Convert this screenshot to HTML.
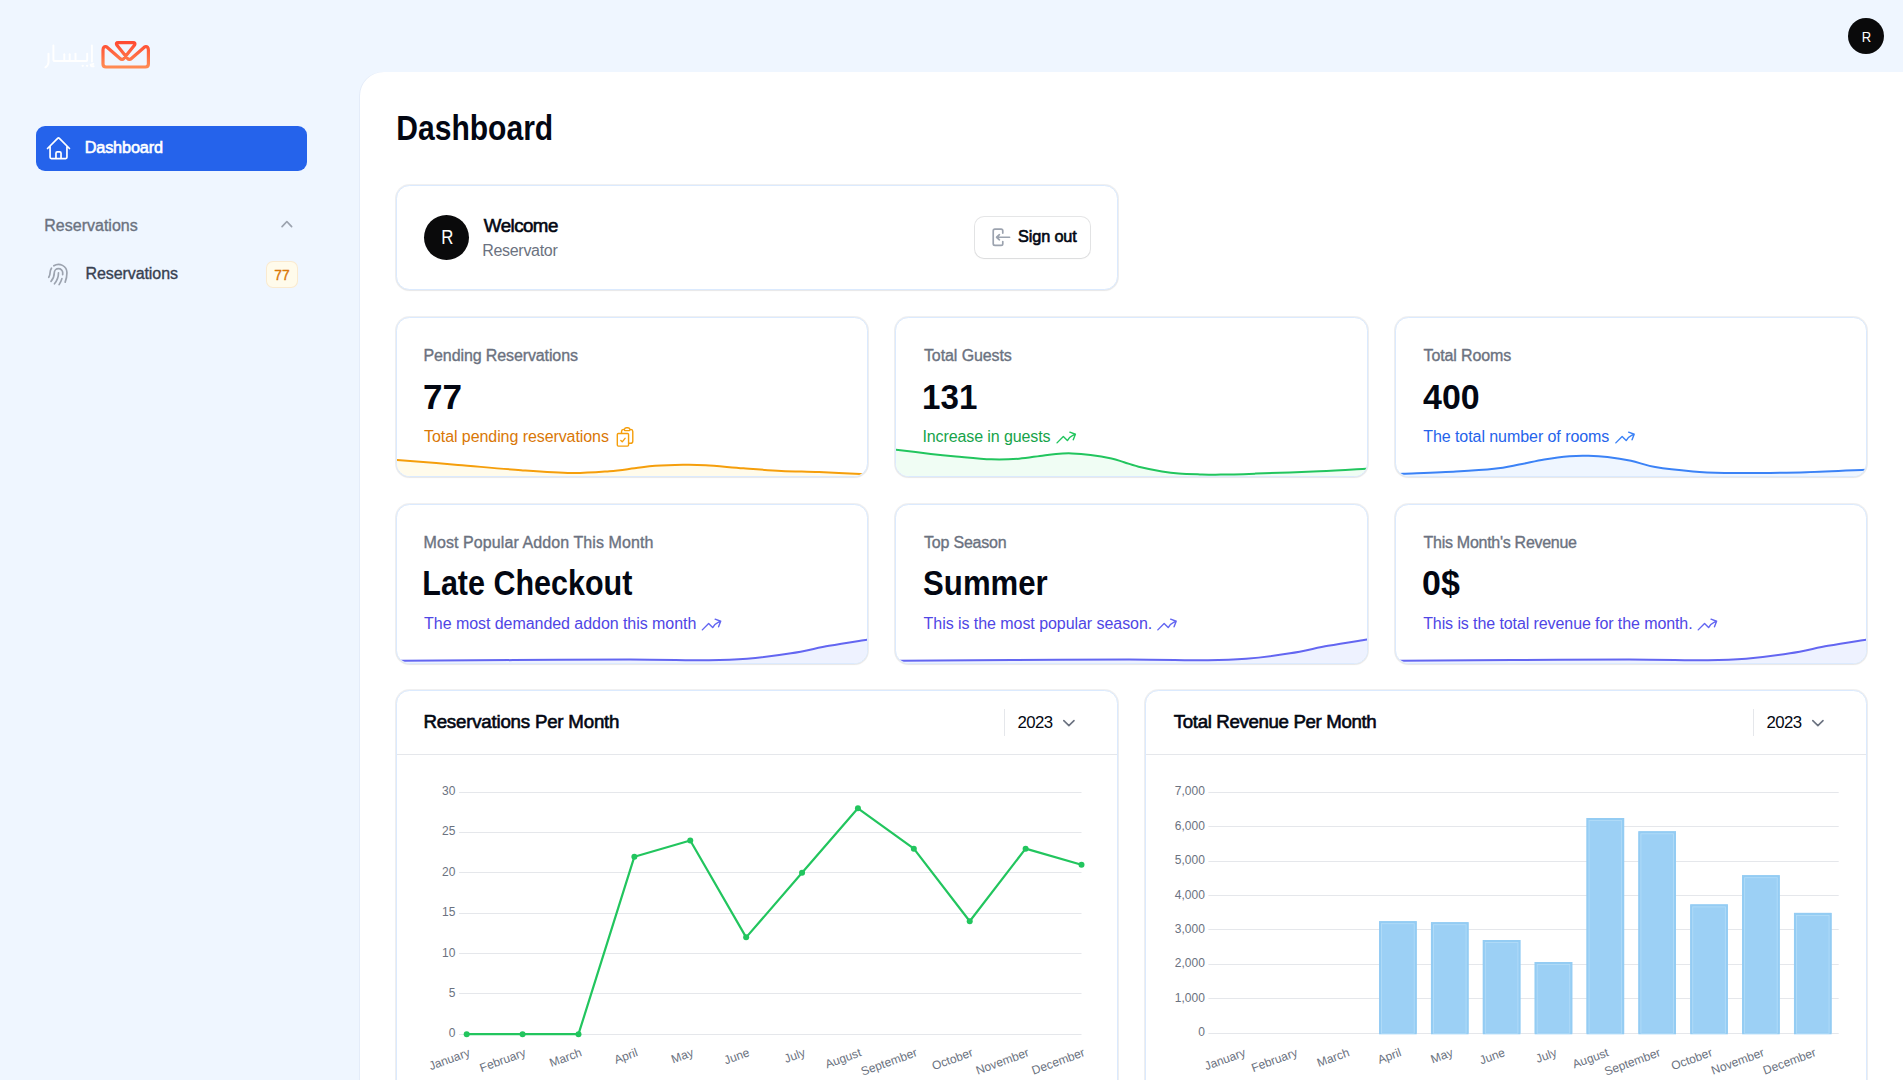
<!DOCTYPE html>
<html><head><meta charset="utf-8"><title>Dashboard</title>
<style>
*{box-sizing:border-box;margin:0;padding:0}
html,body{width:1903px;height:1080px;overflow:hidden}
body{background:#eff6ff;font-family:"Liberation Sans", sans-serif;position:relative}
.t{position:absolute;white-space:nowrap;line-height:1}
.main{position:absolute;left:360px;top:72px;width:1543px;height:1008px;background:#fff;border-top-left-radius:24px;box-shadow:-1px 0 0 rgba(30,58,138,0.05)}
.card{position:absolute;background:#fff;border:1px solid #dbeafe;border-radius:13.5px;box-shadow:0 0 0 1px rgba(3,7,18,0.06),0 1px 2px rgba(0,0,0,0.04)}
.nav{position:absolute;left:36px;top:126px;width:271px;height:45px;background:#2563eb;border-radius:9px}
.badge{position:absolute;left:265.5px;top:261.4px;width:32.3px;height:26.3px;background:#fffbeb;border-radius:7px;box-shadow:inset 0 0 0 1px rgba(217,119,6,0.12)}
.av{position:absolute;border-radius:50%;background:#0a0a0b}
.btn{position:absolute;left:975px;top:217px;width:115px;height:41px;border-radius:9px;background:#fff;box-shadow:0 0 0 1px rgba(3,7,18,0.1),0 1px 2px rgba(0,0,0,0.05)}
svg{position:absolute;left:0;top:0}
.ax{font-family:"Liberation Sans", sans-serif;font-size:12px;fill:#6b7280}
</style></head><body>
<div class="nav"></div>
<div class="badge"></div>
<div class="av" style="left:1848px;top:18px;width:36px;height:36px"></div>
<div class="main"></div>
<div class="card" style="left:396px;top:185px;width:722px;height:105px;"></div><div class="card" style="left:396px;top:317px;width:472px;height:160px;"></div><div class="card" style="left:895px;top:317px;width:473px;height:160px;"></div><div class="card" style="left:1395px;top:317px;width:472px;height:160px;"></div><div class="card" style="left:396px;top:504px;width:472px;height:160px;"></div><div class="card" style="left:895px;top:504px;width:473px;height:160px;"></div><div class="card" style="left:1395px;top:504px;width:472px;height:160px;"></div><div class="card" style="left:396px;top:690px;width:722px;height:420px;"></div><div class="card" style="left:1145px;top:690px;width:722px;height:420px;"></div>
<div class="av" style="left:424px;top:215px;width:45px;height:45px"></div>
<div class="btn"></div>
<svg width="1903" height="1080" viewBox="0 0 1903 1080">
<defs><clipPath id="sc0"><rect x="397" y="318" width="470" height="158" rx="12.5"/></clipPath><clipPath id="sc1"><rect x="896" y="318" width="471" height="158" rx="12.5"/></clipPath><clipPath id="sc2"><rect x="1396" y="318" width="470" height="158" rx="12.5"/></clipPath><clipPath id="sc3"><rect x="397" y="505" width="470" height="158" rx="12.5"/></clipPath><clipPath id="sc4"><rect x="896" y="505" width="471" height="158" rx="12.5"/></clipPath><clipPath id="sc5"><rect x="1396" y="505" width="470" height="158" rx="12.5"/></clipPath></defs>
<defs>
<linearGradient id="lg" x1="0" y1="0" x2="0" y2="1">
<stop offset="0" stop-color="#ff4b33"/><stop offset="1" stop-color="#ff8a52"/></linearGradient>
</defs>
<path d="M103,50 Q103,46 106.5,46.8 L120,58.5 Q122,60.5 124,58.3 L134.6,45 Q135.8,42.6 133.2,42.6 L118.1,42.6 Q115.5,42.6 116.8,45 L127.4,58.3 Q129.4,60.5 131.4,58.5 L144.9,46.8 Q148.4,46 148.4,50 L148.4,64 Q148.4,67 145.4,67 L106,67 Q103,67 103,64 Z" fill="none" stroke="url(#lg)" stroke-width="3.2" stroke-linejoin="round"/>
<g fill="none" stroke="#ffffff" stroke-width="1.95" stroke-linecap="round" stroke-linejoin="round"><path d="M91.9,45.4 L91.9,61.6"/><path d="M87.2,53.6 L87.2,59.4 Q87.2,61 85.6,61 L55,61 Q53.4,61 53.4,59.4 L53.4,45.4"/><path d="M75.5,53.6 L75.5,60.4"/><path d="M69.7,54.3 L69.7,60.4"/><path d="M64.3,54.3 L64.3,60.4"/><path d="M48.5,53.6 L48.5,62.3 Q48.3,65.6 45.4,67.3"/><path d="M90.6,64.6 L93.4,63.9 M90.8,64.8 Q90.6,66.6 93.6,66.3"/></g>
<g fill="#ffffff"><circle cx="82.7" cy="65.8" r="1.15"/><circle cx="87.1" cy="65.8" r="1.15"/></g>
<g transform="translate(45,135) scale(1.125)" fill="none" stroke="#ffffff" stroke-width="1.5" stroke-linecap="round" stroke-linejoin="round"><path d="m2.25 12 8.954-8.955c.44-.439 1.152-.439 1.591 0L21.75 12M4.5 9.75v10.125c0 .621.504 1.125 1.125 1.125H9.75v-4.875c0-.621.504-1.125 1.125-1.125h2.25c.621 0 1.125.504 1.125 1.125V21h4.125c.621 0 1.125-.504 1.125-1.125V9.75M8.25 21h8.25"/></g>
<g transform="translate(275.6,212.9) scale(1.125)" fill="#9ca3af"><path fill-rule="evenodd" d="M14.77 12.79a.75.75 0 01-1.06-.02L10 8.832 6.29 12.77a.75.75 0 11-1.08-1.04l4.25-4.5a.75.75 0 011.08 0l4.25 4.5a.75.75 0 01-.02 1.06z"/></g>
<g transform="translate(45,261) scale(1.125)" fill="none" stroke="#9ca3af" stroke-width="1.5" stroke-linecap="round" stroke-linejoin="round"><path d="M7.864 4.243A7.5 7.5 0 0 1 19.5 10.5c0 2.92-.556 5.709-1.568 8.268M5.742 6.364A7.465 7.465 0 0 0 4.5 10.5a7.464 7.464 0 0 1-1.15 3.993m1.989 3.559A11.209 11.209 0 0 0 8.25 10.5a3.75 3.75 0 1 1 7.5 0c0 .527-.021 1.049-.064 1.565M12 10.5a14.94 14.94 0 0 1-3.6 9.75m6.633-4.596a18.666 18.666 0 0 1-2.485 5.33"/></g>
<g transform="translate(989,226) scale(1.125)" fill="#9ca3af"><path fill-rule="evenodd" d="M3 4.25A2.25 2.25 0 015.25 2h5.5A2.25 2.25 0 0113 4.25v2a.75.75 0 01-1.5 0v-2a.75.75 0 00-.75-.75h-5.5a.75.75 0 00-.75.75v11.5c0 .414.336.75.75.75h5.5a.75.75 0 00.75-.75v-2a.75.75 0 011.5 0v2A2.25 2.25 0 0110.75 18h-5.5A2.25 2.25 0 013 15.75V4.25z"/><path fill-rule="evenodd" d="M19 10a.75.75 0 00-.75-.75H8.704l1.048-.943a.75.75 0 10-1.004-1.114l-2.5 2.25a.75.75 0 000 1.114l2.5 2.25a.75.75 0 101.004-1.114l-1.048-.943h9.546A.75.75 0 0019 10z"/></g>
<g transform="translate(613.80,425.70) scale(0.9375)" fill="none" stroke="#f59e0b" stroke-width="1.5" stroke-linecap="round" stroke-linejoin="round"><path d="M11.35 3.836c-.065.21-.1.433-.1.664 0 .414.336.75.75.75h4.5a.75.75 0 0 0 .75-.75 2.25 2.25 0 0 0-.1-.664m-5.8 0A2.251 2.251 0 0 1 13.5 2.25H15c1.012 0 1.867.668 2.15 1.586m-5.8 0c-.376.023-.75.05-1.124.08C9.095 4.01 8.25 4.973 8.25 6.108V8.25m8.9-4.414c.376.023.75.05 1.124.08 1.131.094 1.976 1.057 1.976 2.192V16.5A2.25 2.25 0 0 1 18 18.75h-2.25m-7.5-10.5H4.875c-.621 0-1.125.504-1.125 1.125v11.25c0 .621.504 1.125 1.125 1.125h9.75c.621 0 1.125-.504 1.125-1.125V18.75m-7.5-10.5h6.375c.621 0 1.125.504 1.125 1.125v9.375m-8.25-3 1.5 1.5 3-3.75"/></g>
<g transform="translate(1054.90,426.00) scale(0.9375)" fill="none" stroke="#22c55e" stroke-width="1.5" stroke-linecap="round" stroke-linejoin="round"><path d="M2.25 18 9 11.25l4.306 4.306a11.95 11.95 0 0 1 5.814-5.518l2.74-1.22m0 0-5.94-2.281m5.94 2.28-2.28 5.941"/></g>
<g transform="translate(1613.70,426.00) scale(0.9375)" fill="none" stroke="#3b82f6" stroke-width="1.5" stroke-linecap="round" stroke-linejoin="round"><path d="M2.25 18 9 11.25l4.306 4.306a11.95 11.95 0 0 1 5.814-5.518l2.74-1.22m0 0-5.94-2.281m5.94 2.28-2.28 5.941"/></g>
<g transform="translate(700.20,613.00) scale(0.9375)" fill="none" stroke="#6366f1" stroke-width="1.5" stroke-linecap="round" stroke-linejoin="round"><path d="M2.25 18 9 11.25l4.306 4.306a11.95 11.95 0 0 1 5.814-5.518l2.74-1.22m0 0-5.94-2.281m5.94 2.28-2.28 5.941"/></g>
<g transform="translate(1155.70,613.00) scale(0.9375)" fill="none" stroke="#6366f1" stroke-width="1.5" stroke-linecap="round" stroke-linejoin="round"><path d="M2.25 18 9 11.25l4.306 4.306a11.95 11.95 0 0 1 5.814-5.518l2.74-1.22m0 0-5.94-2.281m5.94 2.28-2.28 5.941"/></g>
<g transform="translate(1696.10,613.00) scale(0.9375)" fill="none" stroke="#6366f1" stroke-width="1.5" stroke-linecap="round" stroke-linejoin="round"><path d="M2.25 18 9 11.25l4.306 4.306a11.95 11.95 0 0 1 5.814-5.518l2.74-1.22m0 0-5.94-2.281m5.94 2.28-2.28 5.941"/></g>
<g clip-path="url(#sc0)"><path d="M394.00,459.50 C394.50,459.57 386.33,459.00 397.00,459.90 C407.67,460.80 437.33,463.18 458.00,464.90 C478.67,466.62 502.08,468.85 521.00,470.20 C539.92,471.55 556.77,472.83 571.50,473.00 C586.23,473.17 598.88,471.98 609.40,471.20 C619.92,470.42 626.97,469.20 634.60,468.30 C642.23,467.40 647.13,466.38 655.20,465.80 C663.27,465.22 674.58,464.90 683.00,464.80 C691.42,464.70 695.62,464.62 705.70,465.20 C715.78,465.78 730.90,467.35 743.50,468.30 C756.10,469.25 768.72,470.27 781.30,470.90 C793.88,471.53 804.88,471.55 819.00,472.10 C833.12,472.65 857.50,473.82 866.00,474.20 C874.50,474.58 869.33,474.37 870.00,474.40 L870,477 L394,477 Z" fill="#fffbeb"/><path d="M394.00,459.50 C394.50,459.57 386.33,459.00 397.00,459.90 C407.67,460.80 437.33,463.18 458.00,464.90 C478.67,466.62 502.08,468.85 521.00,470.20 C539.92,471.55 556.77,472.83 571.50,473.00 C586.23,473.17 598.88,471.98 609.40,471.20 C619.92,470.42 626.97,469.20 634.60,468.30 C642.23,467.40 647.13,466.38 655.20,465.80 C663.27,465.22 674.58,464.90 683.00,464.80 C691.42,464.70 695.62,464.62 705.70,465.20 C715.78,465.78 730.90,467.35 743.50,468.30 C756.10,469.25 768.72,470.27 781.30,470.90 C793.88,471.53 804.88,471.55 819.00,472.10 C833.12,472.65 857.50,473.82 866.00,474.20 C874.50,474.58 869.33,474.37 870.00,474.40" fill="none" stroke="#f59e0b" stroke-width="2"/></g>
<g clip-path="url(#sc1)"><path d="M893.00,449.30 C893.50,449.37 889.70,448.93 896.00,449.70 C902.30,450.47 920.80,452.78 930.80,453.90 C940.80,455.02 945.90,455.50 956.00,456.40 C966.10,457.30 980.90,458.92 991.40,459.30 C1001.90,459.68 1010.90,459.27 1019.00,458.70 C1027.10,458.13 1033.83,456.70 1040.00,455.90 C1046.17,455.10 1050.67,454.32 1056.00,453.90 C1061.33,453.48 1066.25,453.23 1072.00,453.40 C1077.75,453.57 1083.92,454.05 1090.50,454.90 C1097.08,455.75 1105.90,457.28 1111.50,458.50 C1117.10,459.72 1119.20,460.73 1124.10,462.20 C1129.00,463.67 1134.58,465.75 1140.90,467.30 C1147.22,468.85 1155.68,470.45 1162.00,471.50 C1168.32,472.55 1172.50,473.12 1178.80,473.60 C1185.10,474.08 1192.80,474.23 1199.80,474.40 C1206.80,474.57 1211.43,474.73 1220.80,474.60 C1230.17,474.47 1239.60,474.15 1256.00,473.60 C1272.40,473.05 1300.87,472.12 1319.20,471.30 C1337.53,470.48 1357.53,469.17 1366.00,468.70 C1374.47,468.23 1369.33,468.53 1370.00,468.50 L1370,477 L893,477 Z" fill="#f0fdf4"/><path d="M893.00,449.30 C893.50,449.37 889.70,448.93 896.00,449.70 C902.30,450.47 920.80,452.78 930.80,453.90 C940.80,455.02 945.90,455.50 956.00,456.40 C966.10,457.30 980.90,458.92 991.40,459.30 C1001.90,459.68 1010.90,459.27 1019.00,458.70 C1027.10,458.13 1033.83,456.70 1040.00,455.90 C1046.17,455.10 1050.67,454.32 1056.00,453.90 C1061.33,453.48 1066.25,453.23 1072.00,453.40 C1077.75,453.57 1083.92,454.05 1090.50,454.90 C1097.08,455.75 1105.90,457.28 1111.50,458.50 C1117.10,459.72 1119.20,460.73 1124.10,462.20 C1129.00,463.67 1134.58,465.75 1140.90,467.30 C1147.22,468.85 1155.68,470.45 1162.00,471.50 C1168.32,472.55 1172.50,473.12 1178.80,473.60 C1185.10,474.08 1192.80,474.23 1199.80,474.40 C1206.80,474.57 1211.43,474.73 1220.80,474.60 C1230.17,474.47 1239.60,474.15 1256.00,473.60 C1272.40,473.05 1300.87,472.12 1319.20,471.30 C1337.53,470.48 1357.53,469.17 1366.00,468.70 C1374.47,468.23 1369.33,468.53 1370.00,468.50" fill="none" stroke="#22c55e" stroke-width="2"/></g>
<g clip-path="url(#sc2)"><path d="M1396.00,474.20 C1397.17,474.13 1393.00,474.25 1403.00,473.80 C1413.00,473.35 1440.83,472.33 1456.00,471.50 C1471.17,470.67 1483.48,469.95 1494.00,468.80 C1504.52,467.65 1510.72,466.15 1519.10,464.60 C1527.48,463.05 1535.90,460.90 1544.30,459.50 C1552.70,458.10 1562.13,456.82 1569.50,456.20 C1576.87,455.58 1582.18,455.67 1588.50,455.80 C1594.82,455.93 1600.32,456.17 1607.40,457.00 C1614.48,457.83 1623.03,459.12 1631.00,460.80 C1638.97,462.48 1644.87,465.32 1655.20,467.10 C1665.53,468.88 1681.43,470.52 1693.00,471.50 C1704.57,472.48 1714.08,472.75 1724.60,473.00 C1735.12,473.25 1742.45,473.13 1756.10,473.00 C1769.75,472.87 1788.18,472.73 1806.50,472.20 C1824.82,471.67 1855.42,470.23 1866.00,469.80 C1876.58,469.37 1869.33,469.63 1870.00,469.60 L1870,477 L1396,477 Z" fill="#eff6ff"/><path d="M1396.00,474.20 C1397.17,474.13 1393.00,474.25 1403.00,473.80 C1413.00,473.35 1440.83,472.33 1456.00,471.50 C1471.17,470.67 1483.48,469.95 1494.00,468.80 C1504.52,467.65 1510.72,466.15 1519.10,464.60 C1527.48,463.05 1535.90,460.90 1544.30,459.50 C1552.70,458.10 1562.13,456.82 1569.50,456.20 C1576.87,455.58 1582.18,455.67 1588.50,455.80 C1594.82,455.93 1600.32,456.17 1607.40,457.00 C1614.48,457.83 1623.03,459.12 1631.00,460.80 C1638.97,462.48 1644.87,465.32 1655.20,467.10 C1665.53,468.88 1681.43,470.52 1693.00,471.50 C1704.57,472.48 1714.08,472.75 1724.60,473.00 C1735.12,473.25 1742.45,473.13 1756.10,473.00 C1769.75,472.87 1788.18,472.73 1806.50,472.20 C1824.82,471.67 1855.42,470.23 1866.00,469.80 C1876.58,469.37 1869.33,469.63 1870.00,469.60" fill="none" stroke="#3b82f6" stroke-width="2"/></g>
<g clip-path="url(#sc3)"><path d="M393.00,660.90 C394.50,660.88 382.00,660.93 402.00,660.80 C422.00,660.67 475.00,660.32 513.00,660.10 C551.00,659.88 597.33,659.47 630.00,659.50 C662.67,659.53 689.50,660.42 709.00,660.30 C728.50,660.18 733.33,659.97 747.00,658.80 C760.67,657.63 777.33,655.47 791.00,653.30 C804.67,651.13 816.92,647.98 829.00,645.80 C841.08,643.62 856.83,641.25 863.50,640.20 C870.17,639.15 868.08,639.62 869.00,639.50 L869,664 L393,664 Z" fill="#eef2ff"/><path d="M393.00,660.90 C394.50,660.88 382.00,660.93 402.00,660.80 C422.00,660.67 475.00,660.32 513.00,660.10 C551.00,659.88 597.33,659.47 630.00,659.50 C662.67,659.53 689.50,660.42 709.00,660.30 C728.50,660.18 733.33,659.97 747.00,658.80 C760.67,657.63 777.33,655.47 791.00,653.30 C804.67,651.13 816.92,647.98 829.00,645.80 C841.08,643.62 856.83,641.25 863.50,640.20 C870.17,639.15 868.08,639.62 869.00,639.50" fill="none" stroke="#6366f1" stroke-width="2"/></g>
<g clip-path="url(#sc4)"><path d="M892.00,660.90 C893.50,660.88 881.00,660.93 901.00,660.80 C921.00,660.67 974.00,660.32 1012.00,660.10 C1050.00,659.88 1096.33,659.47 1129.00,659.50 C1161.67,659.53 1188.50,660.42 1208.00,660.30 C1227.50,660.18 1232.33,659.97 1246.00,658.80 C1259.67,657.63 1276.33,655.47 1290.00,653.30 C1303.67,651.13 1315.92,647.98 1328.00,645.80 C1340.08,643.62 1355.83,641.25 1362.50,640.20 C1369.17,639.15 1367.08,639.62 1368.00,639.50 L1368,664 L892,664 Z" fill="#eef2ff"/><path d="M892.00,660.90 C893.50,660.88 881.00,660.93 901.00,660.80 C921.00,660.67 974.00,660.32 1012.00,660.10 C1050.00,659.88 1096.33,659.47 1129.00,659.50 C1161.67,659.53 1188.50,660.42 1208.00,660.30 C1227.50,660.18 1232.33,659.97 1246.00,658.80 C1259.67,657.63 1276.33,655.47 1290.00,653.30 C1303.67,651.13 1315.92,647.98 1328.00,645.80 C1340.08,643.62 1355.83,641.25 1362.50,640.20 C1369.17,639.15 1367.08,639.62 1368.00,639.50" fill="none" stroke="#6366f1" stroke-width="2"/></g>
<g clip-path="url(#sc5)"><path d="M1392.00,660.90 C1393.50,660.88 1381.00,660.93 1401.00,660.80 C1421.00,660.67 1474.00,660.32 1512.00,660.10 C1550.00,659.88 1596.33,659.47 1629.00,659.50 C1661.67,659.53 1688.50,660.42 1708.00,660.30 C1727.50,660.18 1732.33,659.97 1746.00,658.80 C1759.67,657.63 1776.33,655.47 1790.00,653.30 C1803.67,651.13 1815.92,647.98 1828.00,645.80 C1840.08,643.62 1855.83,641.25 1862.50,640.20 C1869.17,639.15 1867.08,639.62 1868.00,639.50 L1868,664 L1392,664 Z" fill="#eef2ff"/><path d="M1392.00,660.90 C1393.50,660.88 1381.00,660.93 1401.00,660.80 C1421.00,660.67 1474.00,660.32 1512.00,660.10 C1550.00,659.88 1596.33,659.47 1629.00,659.50 C1661.67,659.53 1688.50,660.42 1708.00,660.30 C1727.50,660.18 1732.33,659.97 1746.00,658.80 C1759.67,657.63 1776.33,655.47 1790.00,653.30 C1803.67,651.13 1815.92,647.98 1828.00,645.80 C1840.08,643.62 1855.83,641.25 1862.50,640.20 C1869.17,639.15 1867.08,639.62 1868.00,639.50" fill="none" stroke="#6366f1" stroke-width="2"/></g>
<line x1="397" y1="754.5" x2="1117" y2="754.5" stroke="#e5e7eb" stroke-width="1"/>
<line x1="1004.5" y1="709" x2="1004.5" y2="736" stroke="#e5e7eb" stroke-width="1"/>
<polyline points="1063.8,720.6 1068.9,725.6 1074,720.6" fill="none" stroke="#6b7280" stroke-width="1.6" stroke-linecap="round" stroke-linejoin="round"/>
<line x1="1146" y1="754.5" x2="1866" y2="754.5" stroke="#e5e7eb" stroke-width="1"/>
<line x1="1753.5" y1="709" x2="1753.5" y2="736" stroke="#e5e7eb" stroke-width="1"/>
<polyline points="1812.8,720.6 1817.9,725.6 1823,720.6" fill="none" stroke="#6b7280" stroke-width="1.6" stroke-linecap="round" stroke-linejoin="round"/>
<line x1="459" y1="1034.5" x2="1081.5" y2="1034.5" stroke="#e5e7eb" stroke-width="1"/>
<text x="455.4" y="1037.19" text-anchor="end" class="ax">0</text>
<line x1="459" y1="993.5" x2="1081.5" y2="993.5" stroke="#e5e7eb" stroke-width="1"/>
<text x="455.4" y="996.85" text-anchor="end" class="ax">5</text>
<line x1="459" y1="953.5" x2="1081.5" y2="953.5" stroke="#e5e7eb" stroke-width="1"/>
<text x="455.4" y="956.51" text-anchor="end" class="ax">10</text>
<line x1="459" y1="913.5" x2="1081.5" y2="913.5" stroke="#e5e7eb" stroke-width="1"/>
<text x="455.4" y="916.17" text-anchor="end" class="ax">15</text>
<line x1="459" y1="872.5" x2="1081.5" y2="872.5" stroke="#e5e7eb" stroke-width="1"/>
<text x="455.4" y="875.83" text-anchor="end" class="ax">20</text>
<line x1="459" y1="832.5" x2="1081.5" y2="832.5" stroke="#e5e7eb" stroke-width="1"/>
<text x="455.4" y="835.49" text-anchor="end" class="ax">25</text>
<line x1="459" y1="792.5" x2="1081.5" y2="792.5" stroke="#e5e7eb" stroke-width="1"/>
<text x="455.4" y="795.15" text-anchor="end" class="ax">30</text>
<polyline points="466.70,1034.19 522.59,1034.19 578.48,1034.19 634.37,856.69 690.26,840.56 746.15,937.37 802.05,872.83 857.94,808.29 913.83,848.63 969.72,921.24 1025.61,848.63 1081.50,864.76" fill="none" stroke="#22c55e" stroke-width="2.2" stroke-linejoin="round"/>
<circle cx="466.70" cy="1034.19" r="3" fill="#22c55e"/>
<circle cx="522.59" cy="1034.19" r="3" fill="#22c55e"/>
<circle cx="578.48" cy="1034.19" r="3" fill="#22c55e"/>
<circle cx="634.37" cy="856.69" r="3" fill="#22c55e"/>
<circle cx="690.26" cy="840.56" r="3" fill="#22c55e"/>
<circle cx="746.15" cy="937.37" r="3" fill="#22c55e"/>
<circle cx="802.05" cy="872.83" r="3" fill="#22c55e"/>
<circle cx="857.94" cy="808.29" r="3" fill="#22c55e"/>
<circle cx="913.83" cy="848.63" r="3" fill="#22c55e"/>
<circle cx="969.72" cy="921.24" r="3" fill="#22c55e"/>
<circle cx="1025.61" cy="848.63" r="3" fill="#22c55e"/>
<circle cx="1081.50" cy="864.76" r="3" fill="#22c55e"/>
<text transform="translate(470.80,1055.7) rotate(-20)" text-anchor="end" class="ax">January</text>
<text transform="translate(526.69,1055.7) rotate(-20)" text-anchor="end" class="ax">February</text>
<text transform="translate(582.58,1055.7) rotate(-20)" text-anchor="end" class="ax">March</text>
<text transform="translate(638.47,1055.7) rotate(-20)" text-anchor="end" class="ax">April</text>
<text transform="translate(694.36,1055.7) rotate(-20)" text-anchor="end" class="ax">May</text>
<text transform="translate(750.25,1055.7) rotate(-20)" text-anchor="end" class="ax">June</text>
<text transform="translate(806.15,1055.7) rotate(-20)" text-anchor="end" class="ax">July</text>
<text transform="translate(862.04,1055.7) rotate(-20)" text-anchor="end" class="ax">August</text>
<text transform="translate(917.93,1055.7) rotate(-20)" text-anchor="end" class="ax">September</text>
<text transform="translate(973.82,1055.7) rotate(-20)" text-anchor="end" class="ax">October</text>
<text transform="translate(1029.71,1055.7) rotate(-20)" text-anchor="end" class="ax">November</text>
<text transform="translate(1085.60,1055.7) rotate(-20)" text-anchor="end" class="ax">December</text>
<line x1="1208.4" y1="1033.5" x2="1838.7" y2="1033.5" stroke="#e5e7eb" stroke-width="1"/>
<text x="1204.9" y="1036.30" text-anchor="end" class="ax">0</text>
<line x1="1208.4" y1="998.5" x2="1838.7" y2="998.5" stroke="#e5e7eb" stroke-width="1"/>
<text x="1204.9" y="1001.85" text-anchor="end" class="ax">1,000</text>
<line x1="1208.4" y1="964.5" x2="1838.7" y2="964.5" stroke="#e5e7eb" stroke-width="1"/>
<text x="1204.9" y="967.40" text-anchor="end" class="ax">2,000</text>
<line x1="1208.4" y1="929.5" x2="1838.7" y2="929.5" stroke="#e5e7eb" stroke-width="1"/>
<text x="1204.9" y="932.95" text-anchor="end" class="ax">3,000</text>
<line x1="1208.4" y1="895.5" x2="1838.7" y2="895.5" stroke="#e5e7eb" stroke-width="1"/>
<text x="1204.9" y="898.50" text-anchor="end" class="ax">4,000</text>
<line x1="1208.4" y1="861.5" x2="1838.7" y2="861.5" stroke="#e5e7eb" stroke-width="1"/>
<text x="1204.9" y="864.05" text-anchor="end" class="ax">5,000</text>
<line x1="1208.4" y1="826.5" x2="1838.7" y2="826.5" stroke="#e5e7eb" stroke-width="1"/>
<text x="1204.9" y="829.60" text-anchor="end" class="ax">6,000</text>
<line x1="1208.4" y1="792.5" x2="1838.7" y2="792.5" stroke="#e5e7eb" stroke-width="1"/>
<text x="1204.9" y="795.15" text-anchor="end" class="ax">7,000</text>
<text transform="translate(1246.43,1055.7) rotate(-20)" text-anchor="end" class="ax">January</text>
<text transform="translate(1298.29,1055.7) rotate(-20)" text-anchor="end" class="ax">February</text>
<text transform="translate(1350.15,1055.7) rotate(-20)" text-anchor="end" class="ax">March</text>
<rect x="1379.10" y="921.20" width="37.6" height="112.10" fill="#9cd0f5"/>
<rect x="1380.10" y="922.20" width="35.6" height="111.10" fill="none" stroke="#94ccf3" stroke-width="2"/>
<rect x="1381.60" y="923.70" width="32.6" height="109.60" fill="none" stroke="#b3dcf8" stroke-width="0.8"/>
<text transform="translate(1402.00,1055.7) rotate(-20)" text-anchor="end" class="ax">April</text>
<rect x="1430.96" y="922.20" width="37.6" height="111.10" fill="#9cd0f5"/>
<rect x="1431.96" y="923.20" width="35.6" height="110.10" fill="none" stroke="#94ccf3" stroke-width="2"/>
<rect x="1433.46" y="924.70" width="32.6" height="108.60" fill="none" stroke="#b3dcf8" stroke-width="0.8"/>
<text transform="translate(1453.86,1055.7) rotate(-20)" text-anchor="end" class="ax">May</text>
<rect x="1482.82" y="940.00" width="37.6" height="93.30" fill="#9cd0f5"/>
<rect x="1483.82" y="941.00" width="35.6" height="92.30" fill="none" stroke="#94ccf3" stroke-width="2"/>
<rect x="1485.32" y="942.50" width="32.6" height="90.80" fill="none" stroke="#b3dcf8" stroke-width="0.8"/>
<text transform="translate(1505.72,1055.7) rotate(-20)" text-anchor="end" class="ax">June</text>
<rect x="1534.68" y="962.00" width="37.6" height="71.30" fill="#9cd0f5"/>
<rect x="1535.68" y="963.00" width="35.6" height="70.30" fill="none" stroke="#94ccf3" stroke-width="2"/>
<rect x="1537.18" y="964.50" width="32.6" height="68.80" fill="none" stroke="#b3dcf8" stroke-width="0.8"/>
<text transform="translate(1557.58,1055.7) rotate(-20)" text-anchor="end" class="ax">July</text>
<rect x="1586.54" y="818.00" width="37.6" height="215.30" fill="#9cd0f5"/>
<rect x="1587.54" y="819.00" width="35.6" height="214.30" fill="none" stroke="#94ccf3" stroke-width="2"/>
<rect x="1589.04" y="820.50" width="32.6" height="212.80" fill="none" stroke="#b3dcf8" stroke-width="0.8"/>
<text transform="translate(1609.44,1055.7) rotate(-20)" text-anchor="end" class="ax">August</text>
<rect x="1638.40" y="831.30" width="37.6" height="202.00" fill="#9cd0f5"/>
<rect x="1639.40" y="832.30" width="35.6" height="201.00" fill="none" stroke="#94ccf3" stroke-width="2"/>
<rect x="1640.90" y="833.80" width="32.6" height="199.50" fill="none" stroke="#b3dcf8" stroke-width="0.8"/>
<text transform="translate(1661.30,1055.7) rotate(-20)" text-anchor="end" class="ax">September</text>
<rect x="1690.25" y="904.40" width="37.6" height="128.90" fill="#9cd0f5"/>
<rect x="1691.25" y="905.40" width="35.6" height="127.90" fill="none" stroke="#94ccf3" stroke-width="2"/>
<rect x="1692.75" y="906.90" width="32.6" height="126.40" fill="none" stroke="#b3dcf8" stroke-width="0.8"/>
<text transform="translate(1713.15,1055.7) rotate(-20)" text-anchor="end" class="ax">October</text>
<rect x="1742.11" y="875.20" width="37.6" height="158.10" fill="#9cd0f5"/>
<rect x="1743.11" y="876.20" width="35.6" height="157.10" fill="none" stroke="#94ccf3" stroke-width="2"/>
<rect x="1744.61" y="877.70" width="32.6" height="155.60" fill="none" stroke="#b3dcf8" stroke-width="0.8"/>
<text transform="translate(1765.01,1055.7) rotate(-20)" text-anchor="end" class="ax">November</text>
<rect x="1793.97" y="912.90" width="37.6" height="120.40" fill="#9cd0f5"/>
<rect x="1794.97" y="913.90" width="35.6" height="119.40" fill="none" stroke="#94ccf3" stroke-width="2"/>
<rect x="1796.47" y="915.40" width="32.6" height="117.90" fill="none" stroke="#b3dcf8" stroke-width="0.8"/>
<text transform="translate(1816.87,1055.7) rotate(-20)" text-anchor="end" class="ax">December</text>
</svg>
<div class="t" style="left:84.70px;top:139.00px;font-size:16.3px;color:#ffffff;letter-spacing:-0.173px;-webkit-text-stroke:0.6px currentColor;">Dashboard</div>
<div class="t" style="left:44.32px;top:218.00px;font-size:16px;color:#6b7280;-webkit-text-stroke:0.35px currentColor;">Reservations</div>
<div class="t" style="left:85.52px;top:266.00px;font-size:16px;color:#374151;letter-spacing:-0.084px;-webkit-text-stroke:0.35px currentColor;">Reservations</div>
<div class="t" style="left:274.31px;top:269.00px;font-size:13.8px;color:#d97706;letter-spacing:0.027px;-webkit-text-stroke:0.35px currentColor;">77</div>
<div class="t" style="left:1861.14px;top:29.00px;font-size:15.2px;color:#ffffff;transform:scaleX(0.86);transform-origin:5.76px 50%;">R</div>
<div class="t" style="left:395.76px;top:111.00px;font-size:34.5px;color:#030712;font-weight:700;transform:scaleX(0.8708);transform-origin:2.24px 50%;">Dashboard</div>
<div class="t" style="left:439.62px;top:227.00px;font-size:20px;color:#ffffff;transform:scaleX(0.84);transform-origin:7.58px 50%;">R</div>
<div class="t" style="left:483.85px;top:217.00px;font-size:18.7px;color:#030712;letter-spacing:-0.519px;-webkit-text-stroke:0.6px currentColor;">Welcome</div>
<div class="t" style="left:482.22px;top:243.00px;font-size:16px;color:#6b7280;letter-spacing:-0.302px;">Reservator</div>
<div class="t" style="left:1018.07px;top:228.00px;font-size:16.3px;color:#030712;letter-spacing:-0.144px;-webkit-text-stroke:0.6px currentColor;">Sign out</div>
<div class="t" style="left:423.52px;top:348.00px;font-size:16px;color:#6b7280;letter-spacing:-0.112px;-webkit-text-stroke:0.35px currentColor;">Pending Reservations</div>
<div class="t" style="left:422.93px;top:380.00px;font-size:34.5px;color:#030712;font-weight:700;transform:scaleX(1.0180);transform-origin:1.47px 50%;">77</div>
<div class="t" style="left:424.08px;top:429.00px;font-size:16px;color:#d97706;letter-spacing:-0.077px;">Total pending reservations</div>
<div class="t" style="left:923.98px;top:348.00px;font-size:16px;color:#6b7280;letter-spacing:-0.095px;-webkit-text-stroke:0.35px currentColor;">Total Guests</div>
<div class="t" style="left:921.74px;top:380.00px;font-size:34.5px;color:#030712;font-weight:700;transform:scaleX(0.9595);transform-origin:2.16px 50%;">131</div>
<div class="t" style="left:922.46px;top:429.00px;font-size:16px;color:#16a34a;letter-spacing:-0.102px;">Increase in guests</div>
<div class="t" style="left:1423.58px;top:348.00px;font-size:16px;color:#6b7280;letter-spacing:-0.134px;-webkit-text-stroke:0.35px currentColor;">Total Rooms</div>
<div class="t" style="left:1422.98px;top:380.00px;font-size:34.5px;color:#030712;font-weight:700;transform:scaleX(0.9835);transform-origin:0.52px 50%;">400</div>
<div class="t" style="left:1423.18px;top:429.00px;font-size:16px;color:#2563eb;letter-spacing:-0.061px;">The total number of rooms</div>
<div class="t" style="left:423.52px;top:535.00px;font-size:16px;color:#6b7280;letter-spacing:0.090px;-webkit-text-stroke:0.35px currentColor;">Most Popular Addon This Month</div>
<div class="t" style="left:422.16px;top:566.00px;font-size:34.5px;color:#030712;font-weight:700;transform:scaleX(0.8838);transform-origin:2.24px 50%;">Late Checkout</div>
<div class="t" style="left:424.08px;top:616.00px;font-size:16px;color:#4f46e5;letter-spacing:-0.052px;">The most demanded addon this month</div>
<div class="t" style="left:923.98px;top:535.00px;font-size:16px;color:#6b7280;letter-spacing:-0.196px;-webkit-text-stroke:0.35px currentColor;">Top Season</div>
<div class="t" style="left:922.95px;top:566.00px;font-size:34.5px;color:#030712;font-weight:700;transform:scaleX(0.9025);transform-origin:0.95px 50%;">Summer</div>
<div class="t" style="left:923.58px;top:616.00px;font-size:16px;color:#4f46e5;letter-spacing:-0.054px;">This is the most popular season.</div>
<div class="t" style="left:1423.58px;top:535.00px;font-size:16px;color:#6b7280;letter-spacing:-0.278px;-webkit-text-stroke:0.35px currentColor;">This Month's Revenue</div>
<div class="t" style="left:1422.21px;top:566.00px;font-size:34.5px;color:#030712;font-weight:700;transform:scaleX(0.9844);transform-origin:1.29px 50%;">0$</div>
<div class="t" style="left:1423.18px;top:616.00px;font-size:16px;color:#4f46e5;letter-spacing:-0.092px;">This is the total revenue for the month.</div>
<div class="t" style="left:423.40px;top:713.00px;font-size:18.7px;color:#030712;letter-spacing:-0.209px;-webkit-text-stroke:0.6px currentColor;">Reservations Per Month</div>
<div class="t" style="left:1173.83px;top:713.00px;font-size:18.7px;color:#030712;letter-spacing:-0.361px;-webkit-text-stroke:0.6px currentColor;">Total Revenue Per Month</div>
<div class="t" style="left:1017.56px;top:715.00px;font-size:16.8px;color:#030712;letter-spacing:-0.595px;">2023</div>
<div class="t" style="left:1766.56px;top:715.00px;font-size:16.8px;color:#030712;letter-spacing:-0.595px;">2023</div>
</body></html>
